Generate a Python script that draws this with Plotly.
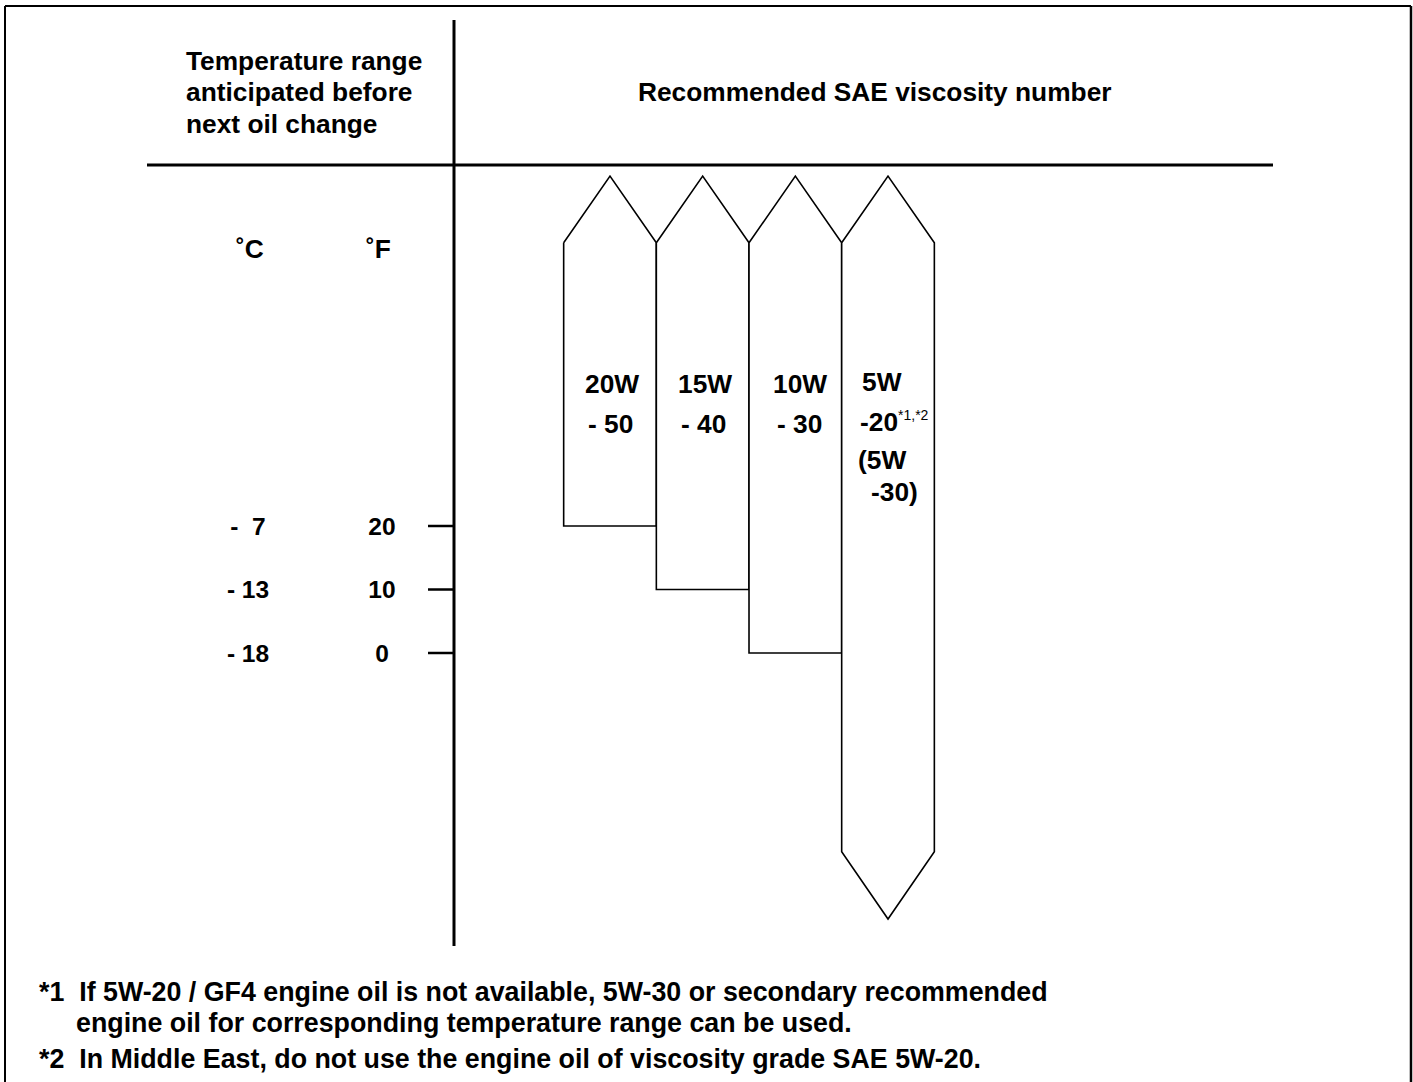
import plotly.graph_objects as go

# ---- data ----
grades_top = ["20W", "15W", "10W", "5W"]
grades_bottom = ["- 50", "- 40", "- 30", "-20"]
min_temp_f = [20, 10, 0, None]          # lowest anticipated temperature (°F); None = open-ended
temp_f_ticks = [20, 10, 0]
temp_c_labels = ["-  7", "- 13", "- 18"]
temp_f_labels = ["20", "10", "0"]

W, H = 1413, 1082
FONT = "Liberation Sans, Arial, Helvetica, sans-serif"
FS = 26.3

# axis calibration (x: column index, y: °F)
X0_PX, COL_PX = 610.0, 92.67
Y0_PX, F_PX = 653.0, 6.35
x_range = [-X0_PX / COL_PX, (W - X0_PX) / COL_PX]
y_range = [-(H - Y0_PX) / F_PX, Y0_PX / F_PX]

def px_x(p):
    return (p - X0_PX) / COL_PX

# arrow geometry (in °F)
TOP_SHOULDER, TOP_APEX = 64.6, 75.1
BOT_SHOULDER, BOT_APEX = -31.3, -41.9
LABEL_DY = -0.45  # small vertical nudge for temperature labels (°F)

fig = go.Figure()

for i, (g, lo) in enumerate(zip(grades_top, min_temp_f)):
    l, r = i - 0.5, i + 0.5
    xs = [l, i, r]
    ys = [TOP_SHOULDER, TOP_APEX, TOP_SHOULDER]
    if lo is None:
        xs += [r, i, l]
        ys += [BOT_SHOULDER, BOT_APEX, BOT_SHOULDER]
    else:
        xs += [r, l]
        ys += [lo, lo]
    xs.append(l)
    ys.append(TOP_SHOULDER)
    fig.add_trace(go.Scatter(x=xs, y=ys, mode="lines", fill="toself",
                             fillcolor="white", line=dict(color="black", width=1.6),
                             hoverinfo="skip", showlegend=False))

# tick marks on the temperature axis
for f in temp_f_ticks:
    fig.add_trace(go.Scatter(x=[px_x(428), px_x(455)], y=[f, f], mode="lines",
                             line=dict(color="black", width=2.5),
                             hoverinfo="skip", showlegend=False))

# temperature labels
fig.add_trace(go.Scatter(x=[px_x(248)] * 3, y=[f + LABEL_DY for f in temp_f_ticks], mode="text",
                         text=["<b>%s</b>" % t for t in temp_c_labels], textposition="middle center",
                         textfont=dict(family=FONT, size=24.5, color="black"),
                         hoverinfo="skip", showlegend=False))
fig.add_trace(go.Scatter(x=[px_x(382)] * 3, y=[f + LABEL_DY for f in temp_f_ticks], mode="text",
                         text=["<b>%s</b>" % t for t in temp_f_labels], textposition="middle center",
                         textfont=dict(family=FONT, size=24.5, color="black"),
                         hoverinfo="skip", showlegend=False))

def ann(text, x, y, xanchor="center", size=FS, xref="paper", align="left"):
    fig.add_annotation(text=text, x=x if xref != "paper" else x / W, y=1 - y / H,
                       xref=xref, yref="paper", xanchor=xanchor, yanchor="middle",
                       showarrow=False, align=align,
                       font=dict(family=FONT, size=size, color="black"))

# header texts
ann("<b>Temperature range</b>", 184, 61, xanchor="left")
ann("<b>anticipated before</b>", 184, 92, xanchor="left")
ann("<b>next oil change</b>", 184, 124, xanchor="left")
ann("<b>Recommended SAE viscosity number</b>", 875, 92)
ann("<b>˚C</b>", 250, 249)
ann("<b>˚F</b>", 378, 249)

# grade labels
label_dx = [0.02, 0.02, 0.05]
bottom_dx = [0.0, 0.01, 0.05]
for i in range(3):
    ann("<b>%s</b>" % grades_top[i], i + label_dx[i], 384, xref="x")
    ann("<b>%s</b>" % grades_bottom[i], i + bottom_dx[i], 424, xref="x")
ann("<b>%s</b>" % grades_top[3], px_x(860), 382, xanchor="left", xref="x")
ann("<b>%s</b><sup><span style='font-size:14px'>*1,*2</span></sup>" % grades_bottom[3],
    px_x(858), 422, xanchor="left", xref="x")
ann("<b>(5W</b>", px_x(856), 460, xanchor="left", xref="x")
ann("<b>-30)</b>", px_x(869), 492, xanchor="left", xref="x")

# footnotes
FN = 26.8
ann("<b>*1  If 5W-20 / GF4 engine oil is not available, 5W-30 or secondary recommended</b>", 37, 992, xanchor="left", size=FN)
ann("<b>engine oil for corresponding temperature range can be used.</b>", 74, 1023, xanchor="left", size=FN)
ann("<b>*2  In Middle East, do not use the engine oil of viscosity grade SAE 5W-20.</b>", 37, 1059, xanchor="left", size=FN)

def line(x0, y0, x1, y1, w):
    fig.add_shape(type="line", xref="paper", yref="paper",
                  x0=x0 / W, y0=1 - y0 / H, x1=x1 / W, y1=1 - y1 / H,
                  line=dict(color="black", width=w))

# frame and grid lines
line(5, 6, 5, H, 2)
line(5, 6, 1411, 6, 2)
line(1411, 6, 1411, H, 2.5)
line(454, 20, 454, 946, 3)
line(147, 165, 1273, 165, 3)

fig.update_layout(width=W, height=H, margin=dict(l=0, r=0, t=0, b=0),
                  paper_bgcolor="white", plot_bgcolor="white",
                  xaxis=dict(range=x_range, visible=False, fixedrange=True),
                  yaxis=dict(range=y_range, visible=False, fixedrange=True),
                  showlegend=False)

fig.write_html("out.html", config={"displayModeBar": False},
               post_script="document.body.style.margin='0';document.body.style.overflow='hidden';")
